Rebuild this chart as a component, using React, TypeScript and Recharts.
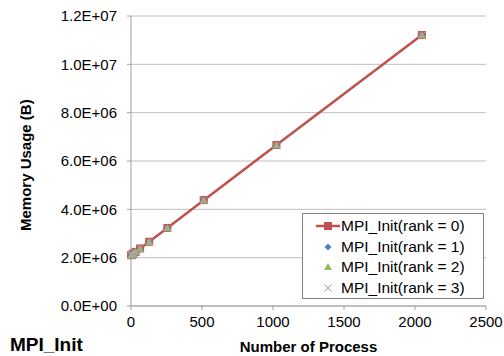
import React from 'react';
import { LineChart, Line, XAxis, YAxis, CartesianGrid, Customized } from 'recharts';

const processes = [2, 4, 8, 16, 32, 64, 128, 256, 512, 1024, 2048];
const rank0 = [2100000, 2110000, 2130000, 2170000, 2240000, 2380000, 2660000, 3230000, 4380000, 6660000, 11210000];
const rank1 = [2090000, 2100000, 2120000, 2160000, 2230000, 2370000, 2650000, 3220000, 4370000, 6650000, 11200000];
const rank2 = [2090000, 2100000, 2120000, 2160000, 2230000, 2370000, 2650000, 3220000, 4370000, 6650000, 11200000];
const rank3 = [2090000, 2100000, 2120000, 2160000, 2230000, 2370000, 2650000, 3220000, 4370000, 6650000, 11200000];
const xTicks = [0, 500, 1000, 1500, 2000, 2500];
const yTicks = [0, 2000000, 4000000, 6000000, 8000000, 10000000, 12000000];
const seriesNames = ['MPI_Init(rank = 0)', 'MPI_Init(rank = 1)', 'MPI_Init(rank = 2)', 'MPI_Init(rank = 3)'];

const data = processes.map((n, i) => ({ n, r0: rank0[i], r1: rank1[i], r2: rank2[i], r3: rank3[i] }));

const RED = '#C0504D';
const BLUE = '#4F81BD';
const GREEN = '#9BBB59';
const PURPLE = '#A99BC9';
const FONT = '"Liberation Sans", Arial, sans-serif';

const fmt = (v: number) => {
  const [m, e] = v.toExponential(1).split('e');
  const sign = e.startsWith('-') ? '-' : '+';
  const d = e.replace(/[+-]/, '').padStart(2, '0');
  return `${m}E${sign}${d}`;
};

const Square = ({ cx, cy, c = RED }: any) => <rect x={cx - 3.5} y={cy - 3.5} width={7} height={7} fill={c} stroke={c} />;
const Diamond = ({ cx, cy }: any) => <path d={`M${cx},${cy - 3.5}L${cx + 3.5},${cy}L${cx},${cy + 3.5}L${cx - 3.5},${cy}Z`} fill={BLUE} />;
const Triangle = ({ cx, cy }: any) => <path d={`M${cx},${cy - 4}L${cx + 4},${cy + 3}L${cx - 4},${cy + 3}Z`} fill={GREEN} />;
const Cross = ({ cx, cy }: any) => (
  <path d={`M${cx - 3.5},${cy - 3.5}L${cx + 3.5},${cy + 3.5}M${cx + 3.5},${cy - 3.5}L${cx - 3.5},${cy + 3.5}`} stroke={PURPLE} strokeWidth={1} fill="none" />
);

const LegendBox = () => {
  const icons = [
    (x: number, y: number) => (
      <g>
        <line x1={x - 12} x2={x + 12} y1={y} y2={y} stroke={RED} strokeWidth={2.5} />
        <Square cx={x} cy={y} />
      </g>
    ),
    (x: number, y: number) => <Diamond cx={x} cy={y} />,
    (x: number, y: number) => <Triangle cx={x} cy={y} />,
    (x: number, y: number) => <Cross cx={x} cy={y} />,
  ];
  return (
    <div style={{ position: 'absolute', left: 302, top: 213, width: 182, height: 86, border: '1px solid #7f7f7f', background: '#fff', boxSizing: 'border-box' }}>
      {seriesNames.map((name, i) => (
        <div key={name} style={{ position: 'absolute', left: 0, top: 2 + i * 20.5, height: 20, display: 'flex', alignItems: 'center' }}>
          <svg width={38} height={20} style={{ display: 'block' }}>
            {icons[i](25, 10)}
          </svg>
          <span style={{ fontFamily: FONT, fontSize: 15.5, color: '#000', whiteSpace: 'nowrap' }}>{name}</span>
        </div>
      ))}
    </div>
  );
};

const Title = () => (
  <text x={10} y={351} fontFamily={FONT} fontSize={19} fontWeight="bold" fill="#000">
    MPI_Init
  </text>
);

export default function App() {
  return (
    <div style={{ position: 'absolute', left: 0, top: 0, width: 504, height: 356, background: '#fff' }}>
      <LineChart width={504} height={356} data={data} margin={{ top: 16, right: 18, bottom: 0, left: 0 }}>
        <CartesianGrid horizontal vertical={false} stroke="#bfbfbf" strokeWidth={1} />
        <XAxis
          type="number"
          dataKey="n"
          domain={[0, 2500]}
          ticks={xTicks}
          interval={0}
          height={50}
          stroke="#a0a0a0"
          tickSize={4}
          tick={{ fontFamily: FONT, fontSize: 15, fill: '#000' }}
          tickMargin={6}
          label={{ value: 'Number of Process', position: 'insideBottom', offset: 4, style: { fontFamily: FONT, fontSize: 15, fontWeight: 'bold', fill: '#000' } }}
        />
        <YAxis
          type="number"
          domain={[0, 12000000]}
          ticks={yTicks}
          interval={0}
          width={131}
          stroke="#a0a0a0"
          tickSize={4}
          tickFormatter={fmt}
          tick={{ fontFamily: FONT, fontSize: 15, fill: '#000' }}
          tickMargin={10}
          label={{ value: 'Memory Usage (B)', angle: -90, position: 'insideLeft', offset: 26, dy: 70, style: { fontFamily: FONT, fontSize: 15, fontWeight: 'bold', fill: '#000' } }}
        />
        <Line dataKey="r0" stroke={RED} strokeWidth={2.5} isAnimationActive={false} dot={(p: any) => <Square key={`s${p.index}`} cx={p.cx} cy={p.cy} />} activeDot={false} />
        <Line dataKey="r1" stroke="none" isAnimationActive={false} dot={(p: any) => <Diamond key={`d${p.index}`} cx={p.cx} cy={p.cy} />} activeDot={false} legendType="none" />
        <Line dataKey="r2" stroke="none" isAnimationActive={false} dot={(p: any) => <Triangle key={`t${p.index}`} cx={p.cx} cy={p.cy} />} activeDot={false} legendType="none" />
        <Line dataKey="r3" stroke="none" isAnimationActive={false} dot={(p: any) => <Cross key={`c${p.index}`} cx={p.cx} cy={p.cy} />} activeDot={false} legendType="none" />
        <Customized component={Title} />
      </LineChart>
      <LegendBox />
    </div>
  );
}
